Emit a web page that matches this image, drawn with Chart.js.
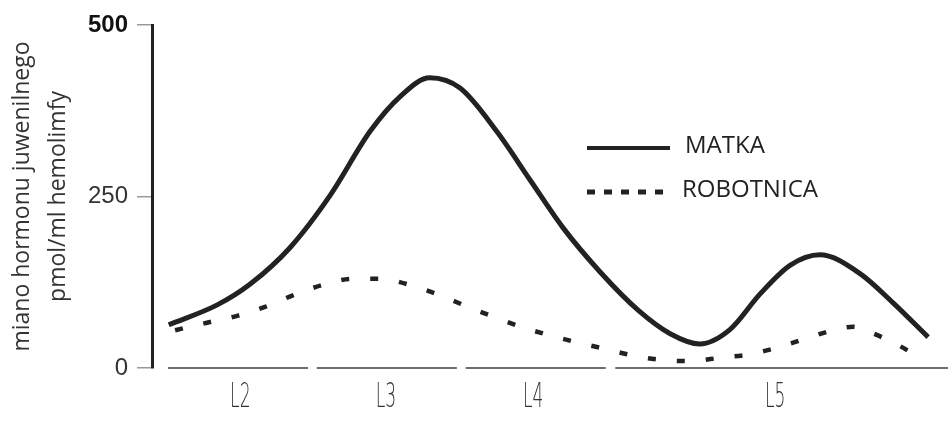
<!DOCTYPE html>
<html>
<head>
<meta charset="utf-8">
<script src="https://cdn.jsdelivr.net/npm/chart.js@4"></script>
<style>
    html, body { margin: 0; padding: 0; background: #fff; }
    #wrap { width: 950px; height: 424px; position: relative; }
</style>
</head>
<body>
<div id="wrap"><canvas id="jhChart"></canvas></div>
<script>
// Development time axis (0-100, arbitrary units across larval stages)
const matkaX = [2.1, 8.2, 12.3, 17.3, 22.4, 27.4, 31.2, 34.9, 38.7, 43.3, 47.5, 51.6, 56.3, 61.1, 65.1, 68.8, 72.6, 76.4, 80.2, 83.9, 88.9, 93.1, 97.5];
const matkaY = [63, 92, 122, 175, 252, 345, 396, 423, 408, 345, 274, 205, 140, 84, 50, 35, 56, 108, 150, 165, 138, 95, 45];

const robotnicaX = [2.9, 6.9, 10.7, 14.2, 17.7, 21.4, 25.1, 28.6, 32.7, 36.2, 39.7, 43.3, 46.9, 52.8, 56.5, 60.1, 63.8, 67.6, 71.4, 75.1, 78.9, 82.4, 86.2, 88.1, 89.8, 93.3, 96.5];
const robotnicaY = [55, 66, 76, 89, 106, 121, 130, 130, 120, 106, 89, 73, 58, 39, 29, 19, 12, 10, 15, 20, 31, 44, 57, 60, 54, 36, 15];

// Larval stages shown under the x axis
const stageLabels = ['L2', 'L3', 'L4', 'L5'];
const stageStart = [2.0, 20.7, 39.4, 58.2];
const stageEnd = [19.6, 38.3, 57.0, 100];
const stageLabelAt = [11.1, 29.4, 47.9, 78.3];

const yMax = 500;
const yStep = 250;

const toPoints = (xs, ys) => xs.map((x, i) => ({ x: x, y: ys[i] }));
const isTop = ctx => ctx.tick && ctx.tick.value === yMax;

// Segmented stage axis with condensed labels
const stagePlugin = {
    id: 'stages',
    afterDraw(chart) {
        const { ctx, chartArea, scales: { x } } = chart;
        ctx.save();
        ctx.strokeStyle = '#6e6e6e';
        ctx.lineWidth = 2;
        stageLabels.forEach((lab, i) => {
            const x0 = x.getPixelForValue(stageStart[i]);
            const x1 = x.getPixelForValue(stageEnd[i]);
            ctx.beginPath();
            ctx.moveTo(x0, chartArea.bottom);
            ctx.lineTo(x1, chartArea.bottom);
            ctx.stroke();

            ctx.save();
            ctx.translate(x.getPixelForValue(stageLabelAt[i]), chartArea.bottom + 39);
            ctx.scale(0.52, 1);
            ctx.font = '300 33px "DejaVu Sans"';
            ctx.fillStyle = '#333';
            ctx.textAlign = 'center';
            ctx.textBaseline = 'alphabetic';
            ctx.fillText(lab, 0, 0);
            ctx.restore();
        });
        ctx.restore();
    }
};

// Legend drawn inside the plot, next to the L4/L5 area
const legendPlugin = {
    id: 'sideLegend',
    afterDraw(chart) {
        const ctx = chart.ctx;
        const rows = [
            { y: 148, x1: 670, tx: 685, dash: [] },
            { y: 192, x1: 665, tx: 682, dash: [8, 9] }
        ];
        ctx.save();
        chart.data.datasets.forEach((ds, i) => {
            const r = rows[i];
            ctx.strokeStyle = ds.borderColor;
            ctx.lineWidth = i === 0 ? 4 : 5;
            ctx.setLineDash(r.dash);
            ctx.lineCap = 'butt';
            ctx.beginPath();
            ctx.moveTo(587, r.y);
            ctx.lineTo(r.x1, r.y);
            ctx.stroke();
            ctx.setLineDash([]);
            ctx.font = '24px "Open Sans"';
            ctx.fillStyle = '#222';
            ctx.textBaseline = 'middle';
            ctx.fillText(ds.label, r.tx, r.y - 2);
        });
        ctx.restore();
    }
};

new Chart(document.getElementById('jhChart'), {
    type: 'line',
    data: {
        datasets: [{
            label: 'MATKA',
            data: toPoints(matkaX, matkaY),
            borderColor: '#222',
            borderWidth: 5,
            pointRadius: 0,
            cubicInterpolationMode: 'monotone',
            fill: false
        }, {
            label: 'ROBOTNICA',
            data: toPoints(robotnicaX, robotnicaY),
            borderColor: '#222',
            borderWidth: 4.5,
            borderDash: [8, 21],
            borderCapStyle: 'butt',
            pointRadius: 0,
            cubicInterpolationMode: 'monotone',
            fill: false
        }]
    },
    options: {
        responsive: true,
        maintainAspectRatio: false,
        animation: false,
        layout: {
            padding: { top: 25, right: 2, bottom: 56, left: 0 }
        },
        plugins: {
            legend: { display: false },
            tooltip: { enabled: false }
        },
        scales: {
            x: {
                type: 'linear',
                min: 0,
                max: 100,
                display: false
            },
            y: {
                min: 0,
                max: yMax,
                afterFit(scale) { scale.width = 152; },
                border: { display: true, color: '#222', width: 3 },
                grid: {
                    drawOnChartArea: false,
                    drawTicks: true,
                    tickLength: 15,
                    color: '#999',
                    lineWidth: 1.5
                },
                ticks: {
                    stepSize: yStep,
                    padding: 9,
                    color: ctx => isTop(ctx) ? '#111' : '#333',
                    font: ctx => ({
                        family: '"Liberation Sans", Arial, sans-serif',
                        size: 24,
                        weight: isTop(ctx) ? 'bold' : 'normal'
                    })
                },
                title: {
                    display: true,
                    text: ['miano hormonu juwenilnego', 'pmol/ml hemolimfy'],
                    color: '#333',
                    padding: { top: 4, bottom: 0 },
                    font: { family: '"Open Sans"', size: 23, lineHeight: 1.565 }
                }
            }
        }
    },
    plugins: [stagePlugin, legendPlugin]
});
</script>
</body>
</html>
